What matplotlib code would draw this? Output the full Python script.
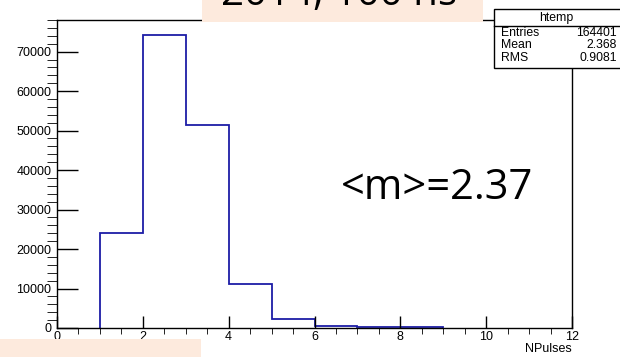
import matplotlib.pyplot as plt
from matplotlib.patches import Rectangle
from matplotlib.lines import Line2D
from matplotlib.ticker import MultipleLocator

# pulse multiplicity histogram, unit-wide bins from 1 to 9
edges = [1, 2, 3, 4, 5, 6, 7, 8, 9]
counts = [24100, 74300, 51500, 11200, 2300, 600, 250, 150]

hist_name = "htemp"
stat_names = ["Entries", "Mean", "RMS"]
stat_values = ["164401", "2.368", "0.9081"]
x_title = "NPulses"
mean_note = "<m>=2.37"
run_note = "2014, 100 ns"

W, H = 620, 357
peach = "#fdeadd"
note_font = "Open Sans"

plt.rcParams["font.family"] = ["Liberation Sans", "DejaVu Sans"]


def px(x, y):
    # pixel position (from top-left) to figure fraction
    return x / W, 1 - y / H


fig = plt.figure(figsize=(W / 100, H / 100), dpi=100)
ax = fig.add_axes([57 / W, 1 - 328 / H, (572 - 57) / W, (328 - 20) / H])

ax.stairs(counts, edges, color="#1c1ca6", lw=1.3, baseline=0)

ax.set_xlim(0, 12)
ax.set_ylim(0, max(counts) * 1.05)
ax.xaxis.set_major_locator(MultipleLocator(2))
ax.xaxis.set_minor_locator(MultipleLocator(0.5))
ax.yaxis.set_major_locator(MultipleLocator(10000))
ax.yaxis.set_minor_locator(MultipleLocator(2000))
ax.tick_params(axis="both", direction="in", top=False, right=False,
               labelsize=9, width=1)
ax.tick_params(axis="y", which="major", length=15, pad=4)
ax.tick_params(axis="y", which="minor", length=7)
ax.tick_params(axis="x", which="major", length=9, pad=2)
ax.tick_params(axis="x", which="minor", length=4.5)
for sp in ax.spines.values():
    sp.set_linewidth(1)

fig.text(*px(572, 349), x_title, ha="right", va="center", fontsize=9)

# stats box
bx0, by0, by1 = 494, 9, 68
fig.add_artist(Rectangle(px(bx0, by1), (W + 10 - bx0) / W, (by1 - by0) / H,
                         transform=fig.transFigure, facecolor="white",
                         edgecolor="black", lw=1, zorder=5))
fig.add_artist(Line2D([bx0 / W, 1.01], [1 - 26 / H] * 2,
                      transform=fig.transFigure, color="black", lw=1,
                      zorder=6))
fig.text(*px(556, 18), hist_name, ha="center", va="center",
         fontsize=8.8, zorder=7)
for i, (n, v) in enumerate(zip(stat_names, stat_values)):
    y = 33 + i * 12.5
    fig.text(*px(501, y), n, ha="left", va="center", fontsize=8.8, zorder=7)
    fig.text(*px(617, y), v, ha="right", va="center", fontsize=8.8, zorder=7)

# slide overlays
fig.add_artist(Rectangle(px(202, 22), (483 - 202) / W, 23 / H,
                         transform=fig.transFigure, facecolor=peach,
                         edgecolor="none", zorder=5))
fig.text(*px(221, 5), run_note, ha="left", va="baseline",
         fontsize=29, family=note_font, zorder=6)
fig.add_artist(Rectangle(px(0, 358), 201 / W, 19 / H,
                         transform=fig.transFigure, facecolor=peach,
                         edgecolor="none", zorder=5))
fig.text(*px(341, 199), mean_note, ha="left", va="baseline",
         fontsize=30, family=note_font, zorder=6)

fig.savefig("out.png", dpi=100)
